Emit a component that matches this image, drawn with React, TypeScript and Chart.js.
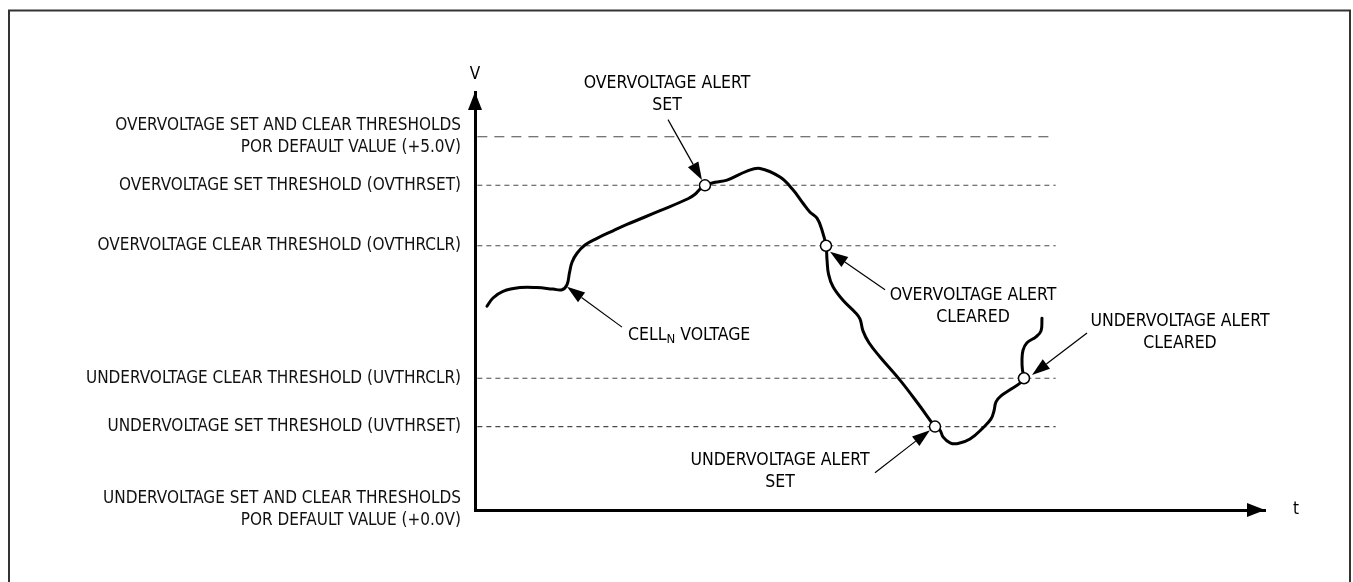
import React, { useEffect, useRef } from "react";
import { Chart, registerables } from "chart.js";

Chart.register(...registerables);

const FONT = '"DejaVu Sans Condensed", "Liberation Sans Narrow", "Arial Narrow", sans-serif';

// Threshold levels (V) and their axis labels
const thresholdValues = [0, 1.117, 1.765, 3.54, 4.35, 5.0];
const thresholdLabels: (string | string[])[] = [
  ["UNDERVOLTAGE SET AND CLEAR THRESHOLDS", "POR DEFAULT VALUE (+0.0V)"],
  "UNDERVOLTAGE SET THRESHOLD (UVTHRSET)",
  "UNDERVOLTAGE CLEAR THRESHOLD (UVTHRCLR)",
  "OVERVOLTAGE CLEAR THRESHOLD (OVTHRCLR)",
  "OVERVOLTAGE SET THRESHOLD (OVTHRSET)",
  ["OVERVOLTAGE SET AND CLEAR THRESHOLDS", "POR DEFAULT VALUE (+5.0V)"],
];
const dashedLevels = [1.117, 1.765, 3.54, 4.35];
const porLevel = 5.0;
const lineStartT = 0.3;
const lineEndT = 73.5;
const porEndT = 73.2;

// Cell voltage trace (t, V)
const curveT = [
  1.52, 2.28, 3.54, 5.7, 7.85, 9.87, 11.01, 11.65, 11.96, 12.28, 12.91, 13.92, 15.44, 17.47, 19.24,
  23.42, 26.96, 27.85, 28.48, 29.11, 30.38, 31.9, 34.43, 36.08, 38.61, 40.25, 41.52, 42.41, 43.29,
  43.92, 44.43, 44.56, 44.75, 45.32, 46.58, 48.1, 48.73, 49.11, 49.87, 51.27, 53.8, 56.33, 58.23,
  58.86, 59.24, 60.13, 61.14, 62.66, 64.3, 65.32, 65.7, 65.95, 66.58, 67.72, 68.99, 69.49, 69.3,
  69.24, 69.37, 69.87, 71.01, 71.65, 71.77,
];
const curveV = [
  2.73, 2.84, 2.93, 2.98, 2.98, 2.96, 2.95, 3.02, 3.18, 3.32, 3.44, 3.55, 3.64, 3.74, 3.825,
  4.01, 4.17, 4.23, 4.3, 4.35, 4.39, 4.42, 4.54, 4.575, 4.46, 4.29, 4.11, 3.99, 3.91,
  3.75, 3.54, 3.35, 3.16, 2.99, 2.81, 2.65, 2.56, 2.4, 2.24, 2.05, 1.74, 1.39, 1.117,
  1.07, 0.98, 0.9, 0.89, 0.95, 1.1, 1.22, 1.33, 1.45, 1.53, 1.61, 1.7, 1.765, 1.876,
  2.01, 2.14, 2.24, 2.32, 2.4, 2.57,
];

// Alert points (crossings)
const alertT = [29.11, 44.43, 58.23, 69.49];
const alertV = [4.35, 3.54, 1.117, 1.765];

// Callout notes
const noteLines = [
  ["OVERVOLTAGE ALERT", "SET"],
  ["OVERVOLTAGE ALERT", "CLEARED"],
  ["UNDERVOLTAGE ALERT", "SET"],
  ["UNDERVOLTAGE ALERT", "CLEARED"],
];
const noteT = [24.3, 63.04, 38.61, 89.24];
const noteV = [5.72, 2.88, 0.67, 2.52];

const cellLabel = ["CELL", "N", " VOLTAGE"];
const cellLabelT = 19.37;
const cellLabelV = 2.34;

// Callout arrows: from -> tip
const arrowFromT = [24.43, 51.9, 18.61, 50.63, 77.47];
const arrowFromV = [5.23, 2.95, 2.45, 0.5, 2.37];
const arrowToT = [28.73, 44.94, 11.65, 57.59, 70.51];
const arrowToV = [4.42, 3.46, 2.99, 1.07, 1.81];

const axisYLabel = "V";
const axisXLabel = "t";

function drawArrow(ctx: CanvasRenderingContext2D, x1: number, y1: number, x2: number, y2: number, headLen: number, halfW: number) {
  const ang = Math.atan2(y2 - y1, x2 - x1);
  const bx = x2 - headLen * Math.cos(ang);
  const by = y2 - headLen * Math.sin(ang);
  ctx.beginPath();
  ctx.moveTo(x1, y1);
  ctx.lineTo(bx, by);
  ctx.stroke();
  ctx.beginPath();
  ctx.moveTo(x2, y2);
  ctx.lineTo(bx + halfW * Math.sin(ang), by - halfW * Math.cos(ang));
  ctx.lineTo(bx - halfW * Math.sin(ang), by + halfW * Math.cos(ang));
  ctx.closePath();
  ctx.fill();
}

const decorPlugin = {
  id: "decor",
  beforeDraw(chart: any) {
    const ctx = chart.ctx as CanvasRenderingContext2D;
    ctx.save();
    ctx.strokeStyle = "#333";
    ctx.lineWidth = 2;
    ctx.strokeRect(9, 10.5, 1341, 600);
    ctx.restore();
  },
  afterDraw(chart: any) {
    const ctx = chart.ctx as CanvasRenderingContext2D;
    const xs = chart.scales.x;
    const ys = chart.scales.y;
    const area = chart.chartArea;
    ctx.save();
    ctx.fillStyle = "#000";
    ctx.strokeStyle = "#000";
    // axis arrowheads
    ctx.beginPath();
    ctx.moveTo(area.left, area.top);
    ctx.lineTo(area.left - 7, area.top + 18);
    ctx.lineTo(area.left + 7, area.top + 18);
    ctx.closePath();
    ctx.fill();
    ctx.beginPath();
    ctx.moveTo(area.right, area.bottom);
    ctx.lineTo(area.right - 18, area.bottom - 7);
    ctx.lineTo(area.right - 18, area.bottom + 7);
    ctx.closePath();
    ctx.fill();

    ctx.font = `17px ${FONT}`;
    ctx.textBaseline = "middle";
    ctx.textAlign = "center";
    ctx.fillText(axisYLabel, area.left, area.top - 17);
    ctx.textAlign = "left";
    ctx.fillText(axisXLabel, area.right + 28, area.bottom);

    // notes
    ctx.font = `17.5px ${FONT}`;
    ctx.textAlign = "center";
    noteLines.forEach((lines, i) => {
      const x = xs.getPixelForValue(noteT[i]);
      const y = ys.getPixelForValue(noteV[i]);
      lines.forEach((l, j) => ctx.fillText(l, x, y + j * 22));
    });

    // CELL_N VOLTAGE
    ctx.textAlign = "left";
    let cx = xs.getPixelForValue(cellLabelT);
    const cy = ys.getPixelForValue(cellLabelV);
    ctx.font = `17.5px ${FONT}`;
    ctx.fillText(cellLabel[0], cx, cy);
    cx += ctx.measureText(cellLabel[0]).width;
    ctx.font = `13px ${FONT}`;
    ctx.fillText(cellLabel[1], cx, cy + 4);
    cx += ctx.measureText(cellLabel[1]).width;
    ctx.font = `17.5px ${FONT}`;
    ctx.fillText(cellLabel[2], cx, cy);

    // callout arrows
    ctx.lineWidth = 1.2;
    arrowFromT.forEach((t, i) => {
      drawArrow(
        ctx,
        xs.getPixelForValue(t),
        ys.getPixelForValue(arrowFromV[i]),
        xs.getPixelForValue(arrowToT[i]),
        ys.getPixelForValue(arrowToV[i]),
        18,
        6
      );
    });
    ctx.restore();
  },
};

export default function App() {
  const ref = useRef<HTMLCanvasElement>(null);
  useEffect(() => {
    if (!ref.current) return;
    const dashed = dashedLevels.map((v) => ({
      type: "line" as const,
      data: [
        { x: lineStartT, y: v },
        { x: lineEndT, y: v },
      ],
      borderColor: "#4a4a4a",
      borderWidth: 1.1,
      borderDash: [5, 4],
      pointRadius: 0,
      order: 3,
    }));
    const chart = new Chart(ref.current, {
      type: "line",
      data: {
        datasets: [
          {
            type: "scatter",
            data: alertT.map((t, i) => ({ x: t, y: alertV[i] })),
            pointRadius: 5.5,
            pointBackgroundColor: "#fff",
            pointBorderColor: "#000",
            pointBorderWidth: 1.5,
            showLine: false,
            order: 0,
          },
          {
            data: curveT.map((t, i) => ({ x: t, y: curveV[i] })),
            borderColor: "#000",
            borderWidth: 3,
            pointRadius: 0,
            tension: 0.4,
            fill: false,
            borderCapStyle: "round",
            borderJoinStyle: "round",
            order: 1,
          },
          {
            data: [
              { x: lineStartT, y: porLevel },
              { x: porEndT, y: porLevel },
            ],
            borderColor: "#4a4a4a",
            borderWidth: 1.1,
            borderDash: [10, 7],
            pointRadius: 0,
            order: 3,
          },
          ...dashed,
        ] as any,
      },
      options: {
        animation: false,
        responsive: false,
        events: [],
        layout: { padding: { left: 0, right: 88, top: 92, bottom: 72 } },
        plugins: { legend: { display: false }, tooltip: { enabled: false }, title: { display: false } },
        scales: {
          x: {
            type: "linear",
            min: 0,
            max: 100,
            ticks: { display: false },
            grid: { display: false, drawTicks: false },
            border: { display: true, width: 3, color: "#000" },
            afterFit: (s: any) => {
              s.height = 0;
            },
          },
          y: {
            type: "linear",
            min: 0,
            max: 5.6,
            grid: { display: false, drawTicks: false },
            border: { display: true, width: 3, color: "#000" },
            afterBuildTicks: (s: any) => {
              s.ticks = thresholdValues.map((v) => ({ value: v }));
            },
            afterFit: (s: any) => {
              s.width = 475;
            },
            ticks: {
              autoSkip: false,
              padding: 14,
              color: "#111",
              font: { family: FONT, size: 17, lineHeight: 1.3 },
              callback: (value: any) => {
                const idx = thresholdValues.findIndex((v) => Math.abs(v - Number(value)) < 1e-6);
                return idx >= 0 ? thresholdLabels[idx] : "";
              },
            },
          },
        },
      },
      plugins: [decorPlugin],
    });
    return () => chart.destroy();
  }, []);
  return (
    <div style={{ position: "absolute", left: 0, top: 0, width: 1353, height: 582, background: "#fff" }}>
      <canvas ref={ref} width={1353} height={582} style={{ display: "block" }} />
    </div>
  );
}
